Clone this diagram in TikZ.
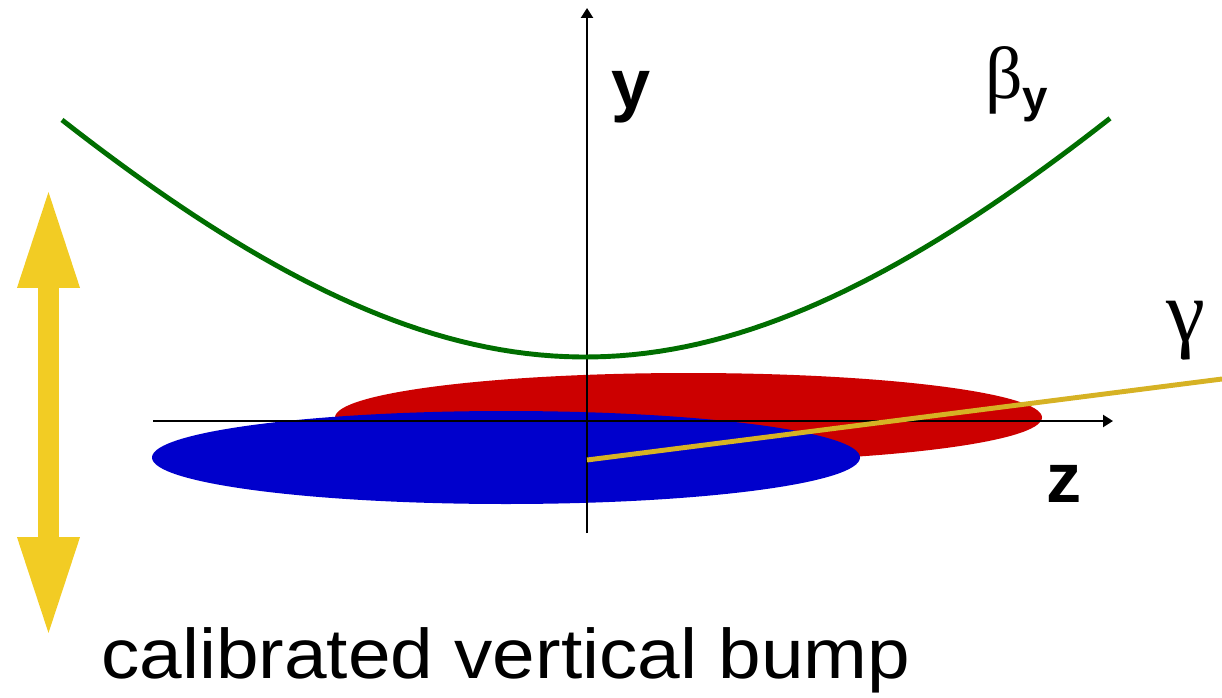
\documentclass[tikz,border=0pt]{standalone}
\usepackage{fontspec}
\usepackage{tikz}
\usetikzlibrary{arrows.meta}
\newfontfamily\labelsans{Liberation Sans}
\newfontfamily\captionsans[FakeStretch=1.09]{Liberation Sans}
\newfontfamily\greekserif{Liberation Serif}
\definecolor{betagreen}{RGB}{0,110,0}
\definecolor{bunchred}{RGB}{204,0,0}
\definecolor{bunchblue}{RGB}{0,0,204}
\definecolor{bumpyellow}{RGB}{242,204,36}
\definecolor{photongold}{RGB}{214,178,36}
\tikzset{
  axis/.style={black, line width=1.3pt,
               -{Triangle[length=2mm,width=2.4mm]}},
  betacurve/.style={betagreen, line width=2.8pt},
  photon/.style={photongold, line width=2.8pt},
  bump/.style={bumpyellow, line width=4.2mm,
               {Triangle[length=20.4mm,width=11.2mm]}-{Triangle[length=20.4mm,width=11.2mm]}},
  axislabel/.style={font=\labelsans\bfseries\fontsize{40}{48}\selectfont, inner sep=0pt},
  greeklabel/.style={font=\greekserif\fontsize{42}{50}\selectfont, inner sep=0pt},
  caption/.style={font=\captionsans\fontsize{40}{48}\selectfont, inner sep=0pt},
}
\begin{document}
\begin{tikzpicture}[x=0.02cm,y=0.02cm]
  \path[use as bounding box] (0,0) rectangle (1222,697);

  % Bunches.
  \fill[bunchred] (688.5,279.5) ellipse [x radius=353.5, y radius=44.5];
  \fill[bunchblue] (506,239.5) ellipse [x radius=354, y radius=46.5];

  % Axes.
  \coordinate (ybottom) at (587,164);
  \coordinate (ytop) at (587,689);
  \coordinate (zleft) at (153,276);
  \coordinate (zright) at (1113,276);
  \draw[axis] (ybottom) -- (ytop);
  \draw[axis] (zleft) -- (zright);

  % Beta function.
  \draw[betacurve] plot[domain=-523:525, samples=80]
    ({585+\x},{340+624*(sqrt(1+(\x/550)^2)-1)});

  % Photon line.
  \coordinate (ip) at (587,237);
  \coordinate (gammaend) at (1222,318);
  \draw[photon] (ip) -- (gammaend);

  % Vertical bump.
  \coordinate (bumpbot) at (48.5,58);
  \coordinate (bumptop) at (48.5,511);
  \draw[bump] (bumpbot) -- (bumptop);

  % Labels.
  \node[axislabel, anchor=base] (ylabel) at (631,588) {y};
  \node[axislabel, anchor=base] (zlabel) at (1064,195) {z};
  \node[greeklabel, anchor=base west] (betalabel) at (985,598)
    {β{\labelsans\bfseries\fontsize{26}{30}\selectfont\raisebox{-0.27cm}{y}}};
  \node[greeklabel, anchor=base, font=\greekserif\fontsize{50}{56}\selectfont] (gammalabel) at (1186,356) {γ};
  \node[caption, anchor=base west] (bumplabel) at (101,19)
    {calibrated vertical bump};
\end{tikzpicture}
\end{document}
